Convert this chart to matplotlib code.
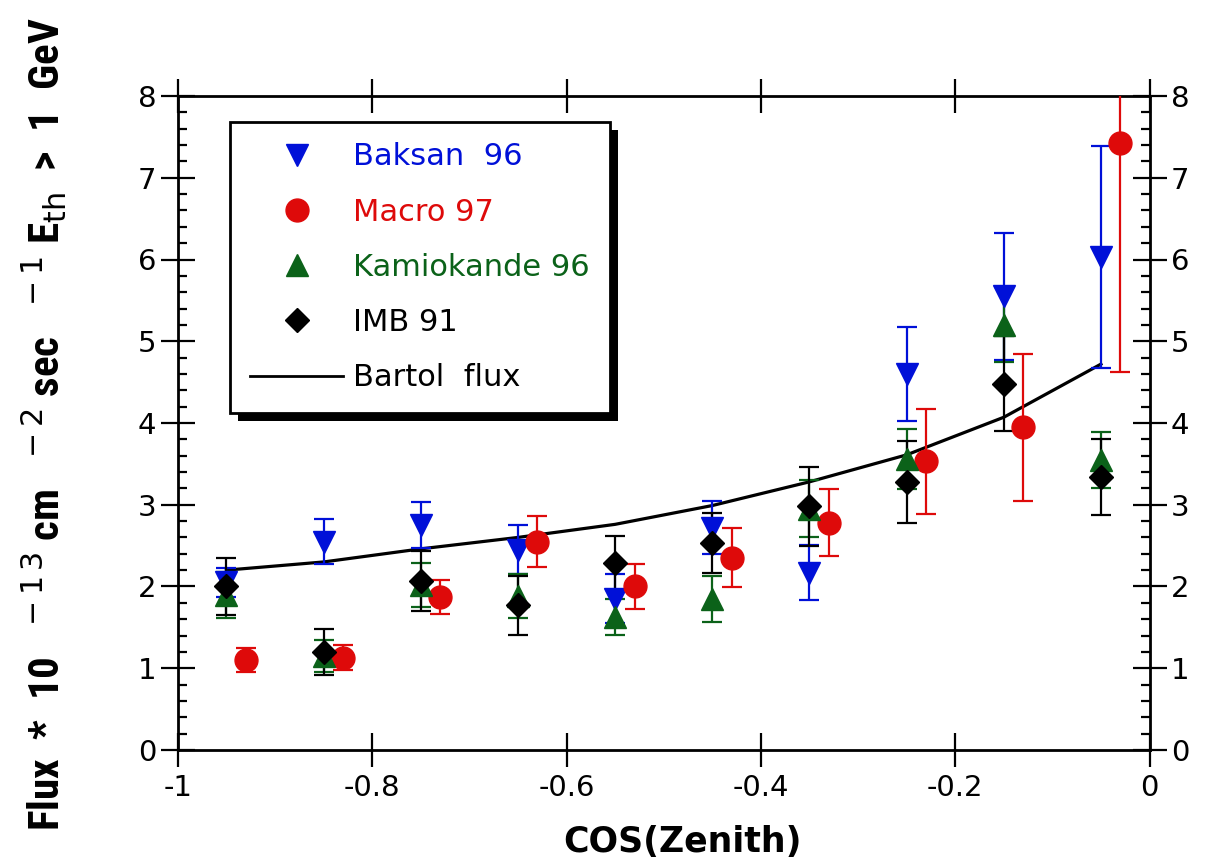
import matplotlib
matplotlib.use("Agg")
import matplotlib.pyplot as plt
from matplotlib.ticker import MultipleLocator, FuncFormatter
from matplotlib.patches import Rectangle
from matplotlib.lines import Line2D
from matplotlib import font_manager

plt.rcParams['axes.unicode_minus'] = False
plt.rcParams['font.family'] = ['DejaVu Sans']

# cos(zenith) bin centres; Macro is shifted slightly to the right
cos_bins = [-0.95, -0.85, -0.75, -0.65, -0.55, -0.45, -0.35, -0.25, -0.15, -0.05]
cos_macro = [-0.93, -0.83, -0.73, -0.63, -0.53, -0.43, -0.33, -0.23, -0.13, -0.03]

baksan = [2.05, 2.55, 2.75, 2.45, 1.85, 2.72, 2.17, 4.60, 5.55, 6.03]
baksan_err = [0.18, 0.27, 0.28, 0.30, 0.30, 0.32, 0.34, 0.57, 0.78, 1.36]

macro = [1.10, 1.13, 1.87, 2.55, 2.00, 2.35, 2.78, 3.53, 3.95, 7.42]
macro_err = [0.15, 0.15, 0.21, 0.31, 0.28, 0.36, 0.41, 0.64, 0.90, 2.80]

kamiokande = [1.90, 1.15, 2.02, 1.88, 1.63, 1.85, 2.95, 3.56, 5.20, 3.55]
kamiokande_err = [0.28, 0.20, 0.27, 0.27, 0.22, 0.28, 0.35, 0.37, 0.46, 0.34]

imb = [2.00, 1.20, 2.07, 1.77, 2.29, 2.53, 2.98, 3.28, 4.48, 3.34]
imb_err = [0.35, 0.28, 0.37, 0.36, 0.33, 0.37, 0.48, 0.50, 0.58, 0.46]

bartol = [2.20, 2.30, 2.46, 2.60, 2.76, 2.99, 3.28, 3.61, 4.07, 4.72]

blue = '#0010d8'
red = '#de0a0a'
green = '#0b6219'

fig = plt.figure(figsize=(12.1, 8.65), dpi=100)
ax = fig.add_axes([0.147, 0.133, 0.803, 0.756])

ax.plot(cos_bins, bartol, color='black', lw=2.3, zorder=2)

eb = dict(capsize=7, capthick=1.6, elinewidth=1.6, linestyle='none', zorder=3)
ax.errorbar(cos_bins, baksan, yerr=baksan_err, fmt='v', ms=16, color=blue, **eb)
ax.errorbar(cos_macro, macro, yerr=macro_err, fmt='o', ms=16.5, color=red, **eb)
ax.errorbar(cos_bins, kamiokande, yerr=kamiokande_err, fmt='^', ms=16, color=green, **eb)
ax.errorbar(cos_bins, imb, yerr=imb_err, fmt='D', ms=12.5, color='black', **eb)

ax.set_xlim(-1, 0)
ax.set_ylim(0, 8)
ax.xaxis.set_major_locator(MultipleLocator(0.2))
ax.yaxis.set_major_locator(MultipleLocator(1))
ax.yaxis.set_minor_locator(MultipleLocator(0.2))
ax.xaxis.set_major_formatter(FuncFormatter(lambda v, p: '%g' % round(v, 2)))

for s in ax.spines.values():
    s.set_linewidth(2)
ax.tick_params(which='major', direction='inout', length=25, width=1.6,
               top=True, right=True, labelright=True, labelsize=21, pad=3)
ax.tick_params(which='minor', direction='in', length=6.5, width=1.6,
               left=True, right=True)
ax.tick_params(axis='x', which='major', pad=5)

ax.set_xlabel('COS(Zenith)', fontsize=25, fontweight='bold')
ax.xaxis.set_label_coords(0.519, -0.114)

# condensed bold face for the y label if one is installed
names = {f.name for f in font_manager.fontManager.ttflist}
narrow = [n for n in ['Liberation Sans Narrow', 'DejaVu Sans Condensed', 'Roboto Condensed',
                      'Open Sans Condensed'] if n in names]
yfam = narrow[0] if narrow else 'DejaVu Sans'
ax.set_ylabel(r'Flux  *  10  $^{\,-1\,3}$ cm  $^{\,-2}$ sec  $^{\,-1}$ E$_{\rm th}$  >  1  GeV',
              fontsize=31, fontweight='bold', fontstretch='condensed',
              family=[yfam, 'DejaVu Sans'])
ax.yaxis.set_label_coords(-0.112, 0.498)

handles = [
    Line2D([], [], marker='v', ms=16, color=blue, ls='none'),
    Line2D([], [], marker='o', ms=16.5, color=red, ls='none'),
    Line2D([], [], marker='^', ms=16, color=green, ls='none'),
    Line2D([], [], marker='D', ms=12.5, color='black', ls='none'),
    Line2D([], [], color='black', lw=2),
]
labels = ['Baksan  96', 'Macro 97', 'Kamiokande 96', 'IMB 91', 'Bartol  flux']
leg = ax.legend(handles, labels, loc='upper left', bbox_to_anchor=(0.0535, 0.960),
                borderaxespad=0, fontsize=22, handlelength=3.05, handletextpad=0.33,
                borderpad=0.66, labelspacing=0.86, fancybox=False, framealpha=1,
                edgecolor='black', numpoints=1)
leg.get_frame().set_linewidth(2)
for t, c in zip(leg.get_texts(), [blue, red, green, 'black', 'black']):
    t.set_color(c)

# heavy black drop shadow behind the legend box
fig.canvas.draw()
bb = leg.get_frame().get_window_extent().transformed(ax.transAxes.inverted())
dx = 8 / (ax.get_window_extent().width)
dy = 8 / (ax.get_window_extent().height)
ax.add_patch(Rectangle((bb.x0 + dx, bb.y0 - dy), bb.width, bb.height,
                       transform=ax.transAxes, facecolor='black', edgecolor='none',
                       zorder=4.9, clip_on=False))

fig.savefig('out.png', dpi=100)
